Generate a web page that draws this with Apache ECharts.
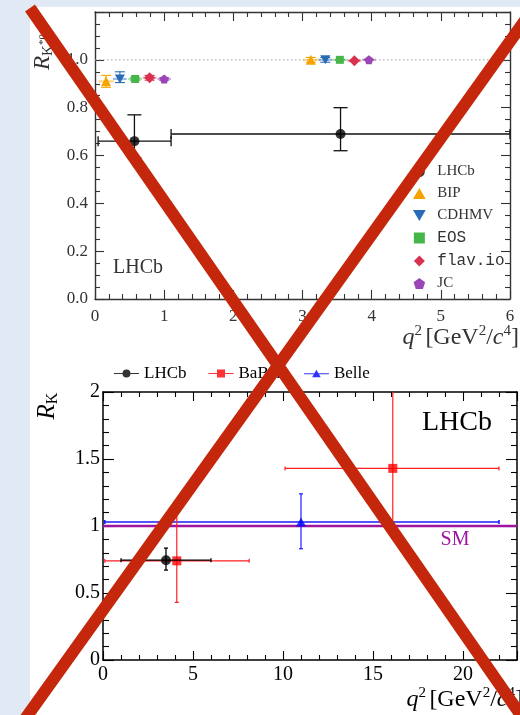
<!DOCTYPE html>
<html>
<head>
<meta charset="utf-8">
<script src="https://cdn.jsdelivr.net/npm/echarts/dist/echarts.min.js"></script>
<style>
  html, body { margin: 0; padding: 0; width: 520px; height: 715px; overflow: hidden; background: #e1e9f4; }
  #panel { position: absolute; left: 30px; top: 7px; width: 490px; height: 708px; background: #ffffff; }
  #chart { position: absolute; left: 0; top: 0; width: 520px; height: 715px; }
</style>
</head>
<body>
<div id="panel"></div>
<div id="chart"></div>
<script>
// ---------- Upper panel: R_K*0 in two q^2 bins ----------
const topBinLo  = [0.045, 1.1];
const topBinHi  = [1.1, 6.0];
const topQ2     = [0.57, 3.55];
const topR      = [0.66, 0.69];
const topErrUp  = [0.11, 0.11];
const topErrDn  = [0.07, 0.07];
const topRef    = 1.0;

const theoryNames   = ['BIP', 'CDHMV', 'EOS', 'flav.io', 'JC'];
const theoryQ2Low   = [0.16, 0.36, 0.58, 0.79, 1.00];
const theoryRLow    = [0.91, 0.92, 0.92, 0.925, 0.92];
const theoryUpLow   = [0.025, 0.03, 0.005, 0.01, 0.005];
const theoryDnLow   = [0.025, 0.015, 0.005, 0.01, 0.005];
const theoryQ2Cen   = [3.12, 3.33, 3.54, 3.75, 3.96];
const theoryRCen    = [1.0, 1.0, 1.0, 0.996, 1.0];
const theoryErrCen  = [0.01, 0.01, 0.001, 0.002, 0.001];
const theoryQ2Half  = [0.11, 0.10, 0.10, 0.10, 0.10];

// ---------- Lower panel: R_K measurements ----------
const lhcbQ2 = [3.5];  const lhcbLo = [1.0];  const lhcbHi = [6.0];
const lhcbR  = [0.745]; const lhcbUp = [0.090]; const lhcbDn = [0.074];

const babarQ2 = [4.1, 16.1];  const babarLo = [0.1, 10.11]; const babarHi = [8.12, 22.0];
const babarR  = [0.74, 1.43]; const babarUp = [0.40, 0.65]; const babarDn = [0.31, 0.44];

const belleQ2 = [11.0]; const belleLo = [0.1]; const belleHi = [22.0];
const belleR  = [1.03]; const belleUp = [0.21]; const belleDn = [0.20];

const smValue = 1.0;

// ---------- styling ----------
const SERIF = '"Liberation Serif", "Times New Roman", serif';
const MONO  = '"Liberation Mono", "DejaVu Sans Mono", monospace';
const theoryColors = ['#f7a400', '#2a6bb8', '#46b64a', '#d93251', '#9a46b6'];
const theoryLight  = ['rgba(247,164,0,0.45)', 'rgba(42,107,184,0.45)', 'rgba(70,182,74,0.45)', 'rgba(217,50,81,0.45)', 'rgba(154,70,182,0.45)'];
const theorySymbols = [
  'triangle',
  'path://M0,0L10,0L5,8.66Z',
  'rect',
  'diamond',
  'path://M5,0L9.755,3.455L7.939,9.045L2.061,9.045L0.245,3.455Z'
];
const theorySizes = [[10, 10], [10, 9], [8, 8], [11, 11], [9, 9]];

const ICON_CIRCLE = 'path://M5,0A5,5 0 1,1 4.99,0Z';
const ICON_TRI    = 'path://M5,0L10,8.66L0,8.66Z';
const ICON_DTRI   = 'path://M0,0L10,0L5,8.66Z';
const ICON_SQ     = 'path://M0,0H8V8H0Z';
const ICON_DIA    = 'path://M5,0L10,5L5,10L0,5Z';
const ICON_PENT   = 'path://M5,0L9.755,3.455L7.939,9.045L2.061,9.045L0.245,3.455Z';

// line + marker legend glyphs for the lower panel
const LEG_LHCB  = 'path://M0,4.4H25V5.6H0Z M12.5,1A4,4 0 1,1 12.49,1Z';
const LEG_BABAR = 'path://M0,4.4H25V5.6H0Z M8.5,1H16.5V9H8.5Z';
const LEG_BELLE = 'path://M0,4.4H25V5.6H0Z M12.5,1L16.8,8.5L8.2,8.5Z';

function errRows(x, y, xlo, xhi, up, dn) {
  return x.map((v, i) => [v, y[i], xlo[i], xhi[i], y[i] - dn[i], y[i] + up[i]]);
}

// error bars: horizontal bin bar, vertical uncertainty, optional caps
function errorBars(o) {
  return function (params, api) {
    const x = api.value(0), y = api.value(1);
    const c = api.coord([x, y]);
    const l = api.coord([api.value(2), y]);
    const r = api.coord([api.value(3), y]);
    const d = api.coord([x, api.value(4)]);
    const u = api.coord([x, api.value(5)]);
    const cs = params.coordSys;
    const top = cs.y, bot = cs.y + cs.height;
    const uy = Math.max(top, u[1]), dy = Math.min(bot, d[1]);
    const hs = { stroke: o.hColor || o.color, lineWidth: o.hWidth || o.width };
    const vs = { stroke: o.color, lineWidth: o.width };
    const ch = [
      { type: 'line', shape: { x1: l[0], y1: c[1], x2: r[0], y2: c[1] }, style: hs },
      { type: 'line', shape: { x1: c[0], y1: uy, x2: c[0], y2: dy }, style: vs }
    ];
    if (o.capV) {
      if (u[1] >= top) ch.push({ type: 'line', shape: { x1: c[0] - o.capV, y1: uy, x2: c[0] + o.capV, y2: uy }, style: vs });
      ch.push({ type: 'line', shape: { x1: c[0] - o.capV, y1: dy, x2: c[0] + o.capV, y2: dy }, style: vs });
    }
    if (o.capH) {
      ch.push({ type: 'line', shape: { x1: l[0], y1: c[1] - o.capH, x2: l[0], y2: c[1] + o.capH }, style: hs });
      ch.push({ type: 'line', shape: { x1: r[0], y1: c[1] - o.capH, x2: r[0], y2: c[1] + o.capH }, style: hs });
    }
    return { type: 'group', children: ch };
  };
}

function valueAxis(o) {
  return {
    type: 'value', gridIndex: o.grid, position: o.pos,
    min: o.min, max: o.max, interval: o.interval,
    axisLine: { show: true, onZero: false, lineStyle: { color: o.color, width: o.lw } },
    axisTick: { show: true, inside: true, length: o.tick, lineStyle: { color: o.color, width: 1.1 } },
    minorTick: { show: true, splitNumber: o.minor, length: o.minorLen, lineStyle: { color: o.color, width: 1.1 } },
    splitLine: { show: false },
    minorSplitLine: { show: false },
    axisLabel: o.labels
      ? { show: true, fontFamily: SERIF, fontSize: o.fs, color: o.color, margin: o.margin, formatter: o.fmt }
      : { show: false }
  };
}

const topX = { grid: 0, min: 0, max: 6, interval: 1, color: '#333', lw: 1.4, tick: 9, minor: 5, minorLen: 5, fs: 17, margin: 9, fmt: v => String(v) };
const topY = { grid: 0, min: 0, max: 1.2, interval: 0.2, color: '#333', lw: 1.4, tick: 9, minor: 4, minorLen: 5, fs: 17, margin: 7, fmt: v => (v > 1.1 ? '' : v.toFixed(1)) };
const botX = { grid: 1, min: 0, max: 23, interval: 5, color: '#000', lw: 1.5, tick: 9, minor: 5, minorLen: 5, fs: 20, margin: 5, fmt: v => (v % 5 === 0 ? String(v) : '') };
const botY = { grid: 1, min: 0, max: 2, interval: 0.5, color: '#000', lw: 1.5, tick: 11, minor: 5, minorLen: 6, fs: 20, margin: 3, fmt: v => String(v) };

const series = [];

// reference line at R = 1 in the upper panel
series.push({
  type: 'line', xAxisIndex: 0, yAxisIndex: 0, silent: true, symbol: 'none', z: 1,
  lineStyle: { color: '#9a9a9a', width: 1, type: [1.5, 2.5] },
  data: [[topX.min, topRef], [topX.max, topRef]]
});

// theory predictions
theoryNames.forEach((name, i) => {
  const rows = [
    [theoryQ2Low[i], theoryRLow[i], theoryQ2Low[i] - theoryQ2Half[i], theoryQ2Low[i] + theoryQ2Half[i], theoryRLow[i] - theoryDnLow[i], theoryRLow[i] + theoryUpLow[i]],
    [theoryQ2Cen[i], theoryRCen[i], theoryQ2Cen[i] - theoryQ2Half[i], theoryQ2Cen[i] + theoryQ2Half[i], theoryRCen[i] - theoryErrCen[i], theoryRCen[i] + theoryErrCen[i]]
  ];
  series.push({
    type: 'custom', xAxisIndex: 0, yAxisIndex: 0, silent: true, z: 2,
    renderItem: errorBars({ color: theoryColors[i], hColor: theoryLight[i], width: 1.1, hWidth: 2.2, capV: 5 }),
    encode: { x: 0, y: 1 },
    data: rows
  });
  series.push({
    name: name, type: 'scatter', xAxisIndex: 0, yAxisIndex: 0, z: 3,
    symbol: theorySymbols[i], symbolSize: theorySizes[i],
    itemStyle: { color: theoryColors[i], opacity: 1 },
    data: rows.map(r => [r[0], r[1]])
  });
});

// LHCb R_K*0
series.push({
  type: 'custom', xAxisIndex: 0, yAxisIndex: 0, silent: true, z: 4,
  renderItem: errorBars({ color: '#111', width: 1.3, capV: 7, capH: 5 }),
  encode: { x: 0, y: 1 },
  data: errRows(topQ2, topR, topBinLo, topBinHi, topErrUp, topErrDn)
});
series.push({
  name: 'LHCb', type: 'scatter', xAxisIndex: 0, yAxisIndex: 0, z: 5,
  symbol: 'circle', symbolSize: 10, itemStyle: { color: '#000' },
  data: topQ2.map((v, i) => [v, topR[i]])
});

// Standard Model line in the lower panel
series.push({
  type: 'line', xAxisIndex: 2, yAxisIndex: 2, silent: true, symbol: 'none', z: 1,
  lineStyle: { color: '#a0139e', width: 2.3 },
  data: [[botX.min, smValue], [botX.max, smValue]]
});

// Belle
series.push({
  type: 'custom', xAxisIndex: 2, yAxisIndex: 2, silent: true, z: 2,
  renderItem: errorBars({ color: '#1b1bff', width: 1.2, hWidth: 1.6, capV: 2, capH: 2 }),
  encode: { x: 0, y: 1 },
  data: errRows(belleQ2, belleR, belleLo, belleHi, belleUp, belleDn)
});
series.push({
  name: 'Belle', type: 'scatter', xAxisIndex: 2, yAxisIndex: 2, z: 3,
  symbol: 'triangle', symbolSize: [10, 9], itemStyle: { color: '#0000ff' },
  data: belleQ2.map((v, i) => [v, belleR[i]])
});

// BaBar
series.push({
  type: 'custom', xAxisIndex: 2, yAxisIndex: 2, silent: true, z: 3,
  renderItem: errorBars({ color: '#ff1f1f', width: 1.2, capV: 2, capH: 2 }),
  encode: { x: 0, y: 1 },
  data: errRows(babarQ2, babarR, babarLo, babarHi, babarUp, babarDn)
});
series.push({
  name: 'BaBar', type: 'scatter', xAxisIndex: 2, yAxisIndex: 2, z: 4,
  symbol: 'rect', symbolSize: 9, itemStyle: { color: '#ff0000' },
  data: babarQ2.map((v, i) => [v, babarR[i]])
});

// LHCb R_K
series.push({
  type: 'custom', xAxisIndex: 2, yAxisIndex: 2, silent: true, z: 5,
  renderItem: errorBars({ color: '#000', width: 1.3, capV: 2, capH: 2 }),
  encode: { x: 0, y: 1 },
  data: errRows(lhcbQ2, lhcbR, lhcbLo, lhcbHi, lhcbUp, lhcbDn)
});
series.push({
  name: 'LHCb', type: 'scatter', xAxisIndex: 2, yAxisIndex: 2, z: 6,
  symbol: 'circle', symbolSize: 10, itemStyle: { color: '#000' },
  data: lhcbQ2.map((v, i) => [v, lhcbR[i]])
});

function axisTitle(color) {
  return {
    i: { fontFamily: SERIF, fontStyle: 'italic', fontSize: 24, fill: color, lineHeight: 28 },
    n: { fontFamily: SERIF, fontSize: 24, fill: color, lineHeight: 28 },
    p: { fontFamily: SERIF, fontSize: 15, fill: color, verticalAlign: 'top', lineHeight: 15 }
  };
}

const chart = echarts.init(document.getElementById('chart'), null, { renderer: 'canvas' });

chart.setOption({
  animation: false,
  backgroundColor: 'transparent',
  grid: [
    { left: 95, top: 12, width: 415, height: 287 },
    { left: 103, top: 392, width: 419, height: 268 }
  ],
  xAxis: [
    valueAxis(Object.assign({}, topX, { pos: 'bottom', labels: true })),
    valueAxis(Object.assign({}, topX, { pos: 'top', labels: false })),
    valueAxis(Object.assign({}, botX, { pos: 'bottom', labels: true })),
    valueAxis(Object.assign({}, botX, { pos: 'top', labels: false }))
  ],
  yAxis: [
    valueAxis(Object.assign({}, topY, { pos: 'left', labels: true })),
    valueAxis(Object.assign({}, topY, { pos: 'right', labels: false })),
    valueAxis(Object.assign({}, botY, { pos: 'left', labels: true })),
    valueAxis(Object.assign({}, botY, { pos: 'right', labels: false }))
  ],
  legend: [
    {
      orient: 'vertical', left: 408, top: 159, selectedMode: false,
      itemWidth: 26, itemHeight: 11, itemGap: 7,
      textStyle: { fontFamily: SERIF, fontSize: 15, color: '#333' },
      data: [
        { name: 'LHCb', icon: ICON_CIRCLE },
        { name: 'BIP', icon: ICON_TRI },
        { name: 'CDHMV', icon: ICON_DTRI },
        { name: 'EOS', icon: ICON_SQ, textStyle: { fontFamily: MONO, fontSize: 16, color: '#333' } },
        { name: 'flav.io', icon: ICON_DIA, textStyle: { fontFamily: MONO, fontSize: 16, color: '#333' } },
        { name: 'JC', icon: ICON_PENT }
      ]
    },
    {
      orient: 'horizontal', left: 109, top: 360, selectedMode: false,
      itemWidth: 25, itemHeight: 10, itemGap: 22,
      textStyle: { fontFamily: SERIF, fontSize: 17, color: '#000' },
      data: [
        { name: 'LHCb', icon: LEG_LHCB },
        { name: 'BaBar', icon: LEG_BABAR },
        { name: 'Belle', icon: LEG_BELLE }
      ]
    }
  ],
  graphic: [
    { type: 'text', x: 113, y: 268, z: 10, style: { text: 'LHCb', font: '20px ' + SERIF, fill: '#333', textAlign: 'left', textVerticalAlign: 'middle' } },
    { type: 'text', x: 43, y: 52, rotation: Math.PI / 2, z: 10, style: {
        text: '{r|R}{s|K}{t|*0}', textAlign: 'center', textVerticalAlign: 'middle',
        rich: {
          r: { fontFamily: SERIF, fontStyle: 'italic', fontSize: 23, fill: '#333', lineHeight: 26 },
          s: { fontFamily: SERIF, fontSize: 15, fill: '#333', verticalAlign: 'bottom', lineHeight: 15 },
          t: { fontFamily: SERIF, fontSize: 11, fill: '#333', verticalAlign: 'middle', lineHeight: 11 }
        } } },
    { type: 'text', x: 519, y: 338, z: 10, style: {
        text: '{i|q}{p|2} {n|[GeV}{p|2}{n|/}{i|c}{p|4}{n|]}', textAlign: 'right', textVerticalAlign: 'middle',
        rich: axisTitle('#333') } },
    { type: 'text', x: 47, y: 406, rotation: Math.PI / 2, z: 10, style: {
        text: '{r|R}{s|K}', textAlign: 'center', textVerticalAlign: 'middle',
        rich: {
          r: { fontFamily: SERIF, fontStyle: 'italic', fontSize: 25, fill: '#000', lineHeight: 28 },
          s: { fontFamily: SERIF, fontSize: 16, fill: '#000', verticalAlign: 'bottom', lineHeight: 16 }
        } } },
    { type: 'text', x: 457, y: 423, z: 10, style: { text: 'LHCb', font: '28px ' + SERIF, fill: '#000', textAlign: 'center', textVerticalAlign: 'middle' } },
    { type: 'text', x: 455, y: 540, z: 10, style: { text: 'SM', font: '20px ' + SERIF, fill: '#a0139e', textAlign: 'center', textVerticalAlign: 'middle' } },
    { type: 'text', x: 523, y: 700, z: 10, style: {
        text: '{i|q}{p|2} {n|[GeV}{p|2}{n|/}{i|c}{p|4}{n|]}', textAlign: 'right', textVerticalAlign: 'middle',
        rich: axisTitle('#000') } },
    // crossed-out overlay
    { type: 'line', z: 100, shape: { x1: 30, y1: 8, x2: 527, y2: 724 }, style: { stroke: '#c4270c', lineWidth: 12, lineCap: 'butt' } },
    { type: 'line', z: 100, shape: { x1: 531, y1: 12, x2: 25, y2: 719 }, style: { stroke: '#c4270c', lineWidth: 12, lineCap: 'butt' } }
  ],
  series: series
});
</script>
</body>
</html>
